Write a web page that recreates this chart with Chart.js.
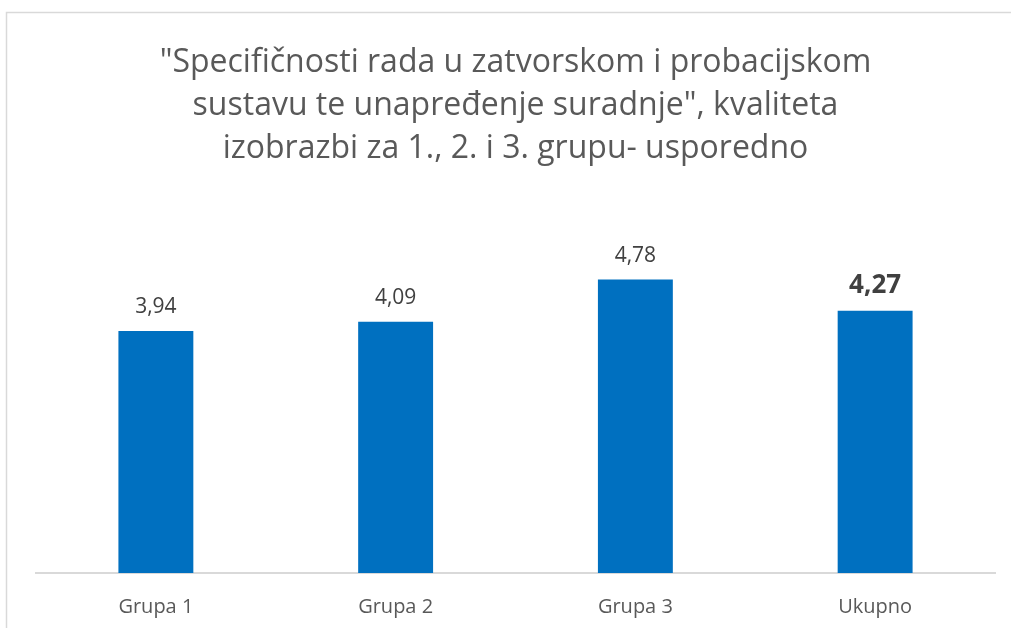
<!DOCTYPE html>
<html>
<head>
<meta charset="utf-8">
<script src="https://cdn.jsdelivr.net/npm/chart.js@4.4.1/dist/chart.umd.min.js"></script>
<style>
  html, body { margin: 0; padding: 0; background: #fff; }
  #wrap { width: 1011px; height: 628px; }
</style>
</head>
<body>
<div id="wrap"><canvas id="kvaliteta"></canvas></div>
<script>
// Podaci s grafa
const grupe = ["Grupa 1", "Grupa 2", "Grupa 3", "Ukupno"];
const ocjene = [3.94, 4.09, 4.78, 4.27];
const naslov = [
  "\"Specifičnosti rada u zatvorskom i probacijskom",
  "sustavu te unapređenje suradnje\", kvaliteta",
  "izobrazbi za 1., 2. i 3. grupu- usporedno"
];

const font = "'Open Sans', sans-serif";

// okvir oko grafa (lijevo i gore)
const okvir = {
  id: "okvir",
  beforeDraw(chart) {
    const c = chart.ctx;
    c.save();
    c.strokeStyle = "#d9d9d9";
    c.lineWidth = 1.5;
    c.beginPath();
    c.moveTo(6.5, 628);
    c.lineTo(6.5, 12.5);
    c.lineTo(1011, 12.5);
    c.stroke();
    c.restore();
  }
};

// vrijednosti iznad stupaca, zadnja podebljana
const oznake = {
  id: "oznake",
  afterDatasetsDraw(chart) {
    const c = chart.ctx;
    const meta = chart.getDatasetMeta(0);
    c.save();
    c.textAlign = "center";
    c.textBaseline = "alphabetic";
    c.fillStyle = "#404040";
    meta.data.forEach((bar, i) => {
      const zadnji = i === ocjene.length - 1;
      c.font = zadnji ? "bold 26px " + font : "21px " + font;
      c.fillText(ocjene[i].toFixed(2).replace(".", ","), bar.x, bar.y - 18);
    });
    c.restore();
  }
};

new Chart(document.getElementById("kvaliteta"), {
  type: "bar",
  data: {
    labels: grupe,
    datasets: [{
      data: ocjene,
      backgroundColor: "#0070c0",
      categoryPercentage: 1,
      barPercentage: 0.3125
    }]
  },
  options: {
    responsive: true,
    maintainAspectRatio: false,
    animation: false,
    layout: { padding: { left: 36, right: 16, bottom: -13, top: 0 } },
    plugins: {
      legend: { display: false },
      tooltip: { enabled: false },
      title: {
        display: true,
        text: naslov,
        color: "#595959",
        font: { family: font, size: 32, weight: "normal", lineHeight: 1.35 },
        padding: { top: 41, bottom: 34 }
      }
    },
    scales: {
      y: { display: false, min: 0, max: 6 },
      x: {
        border: { display: true, color: "#d9d9d9", width: 2 },
        grid: { drawOnChartArea: false, drawTicks: false },
        ticks: { color: "#595959", font: { family: font, size: 20 }, padding: 22 }
      }
    }
  },
  plugins: [okvir, oznake]
});
</script>
</body>
</html>
